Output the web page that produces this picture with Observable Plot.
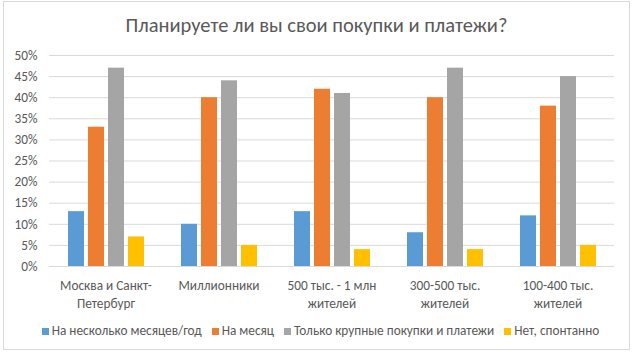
<!DOCTYPE html>
<html>
<head>
<meta charset="utf-8">
<script src="https://cdn.jsdelivr.net/npm/d3@7"></script>
<script src="https://cdn.jsdelivr.net/npm/@observablehq/plot@0.6"></script>
<style>
  html, body { margin: 0; padding: 0; background: #fff; }
  #wrap { position: relative; width: 633px; height: 354px; overflow: hidden; font-family: Calibri, Carlito, "Open Sans", sans-serif; color: #595959; }
  #border { position: absolute; left: 3px; top: 1px; width: 625px; height: 347px; border: 1px solid #d9d9d9; }
  #title { position: absolute; left: 0; width: 633px; top: 13px; line-height: 24px; text-align: center; font-size: 20.5px; color: #595959; }
  #chart { position: absolute; left: 0; top: 0; }
  #legend { position: absolute; left: 4px; width: 633px; top: 322px; line-height: 18px; display: flex; justify-content: center; font-size: 13.3px; color: #595959; white-space: nowrap; }
  #legend .item { display: flex; align-items: center; margin: 0 5px; }
  #legend .sw { width: 7px; height: 7px; margin-right: 3px; }
</style>
</head>
<body>
<div id="wrap">
  <div id="border"></div>
  <div id="chart"></div>
  <div id="title"></div>
  <div id="legend"></div>
</div>
<script>
const title = "Планируете ли вы свои покупки и платежи?";
const cities = ["Москва и Санкт-Петербург", "Миллионники", "500 тыс. - 1 млн жителей", "300-500 тыс. жителей", "100-400 тыс. жителей"];
const cityLabels = ["Москва и Санкт-\nПетербург", "Миллионники", "500 тыс. - 1 млн\nжителей", "300-500 тыс.\nжителей", "100-400 тыс.\nжителей"];
const series = ["На несколько месяцев/год", "На месяц", "Только крупные покупки и платежи", "Нет, спонтанно"];
const colors = ["#5B9BD5", "#ED7D31", "#A5A5A5", "#FFC000"];
const severalMonths = [13, 10, 13, 8, 12];
const oneMonth = [33, 40, 42, 40, 38];
const bigOnly = [47, 44, 41, 47, 45];
const spontaneous = [7, 5, 4, 4, 5];
const yTicks = [0, 5, 10, 15, 20, 25, 30, 35, 40, 45, 50];

const seriesValues = [severalMonths, oneMonth, bigOnly, spontaneous];
const rows = [];
cities.forEach((c, i) => series.forEach((s, j) => rows.push({city: c, series: s, value: seriesValues[j][i] / 100})));
const tickVals = yTicks.map(t => t / 100);

document.getElementById("title").textContent = title;

const fontFam = 'Calibri, Carlito, "Open Sans", sans-serif';
const plot = Plot.plot({
  width: 633,
  height: 318,
  marginLeft: 48,
  marginRight: 18,
  marginTop: 55,
  marginBottom: 52,
  style: {fontFamily: fontFam, fontSize: "13.3px", color: "#595959", background: "transparent"},
  fx: {domain: cities, padding: 0, axis: null},
  x: {domain: series, paddingInner: 0.2, paddingOuter: 0.866, axis: null},
  y: {domain: [0, 0.5], ticks: tickVals, tickFormat: d => Math.round(d * 100) + "%", tickSize: 0, tickPadding: 12, label: null},
  color: {domain: series, range: colors},
  marks: [
    Plot.gridY(tickVals, {stroke: "#d9d9d9", strokeOpacity: 1}),
    Plot.barY(rows, {fx: "city", x: "series", y: "value", fill: "series"}),
    Plot.text(cities, {fx: d => d, text: (d, i) => cityLabels[i], frameAnchor: "bottom", lineAnchor: "top", dy: 10, lineHeight: 1.38, fontSize: 13.3, fill: "#595959"})
  ]
});
document.getElementById("chart").appendChild(plot);

const legend = document.getElementById("legend");
series.forEach((s, i) => {
  const item = document.createElement("div");
  item.className = "item";
  const sw = document.createElement("div");
  sw.className = "sw";
  sw.style.background = colors[i];
  const t = document.createElement("span");
  t.textContent = s;
  item.appendChild(sw);
  item.appendChild(t);
  legend.appendChild(item);
});
</script>
</body>
</html>
